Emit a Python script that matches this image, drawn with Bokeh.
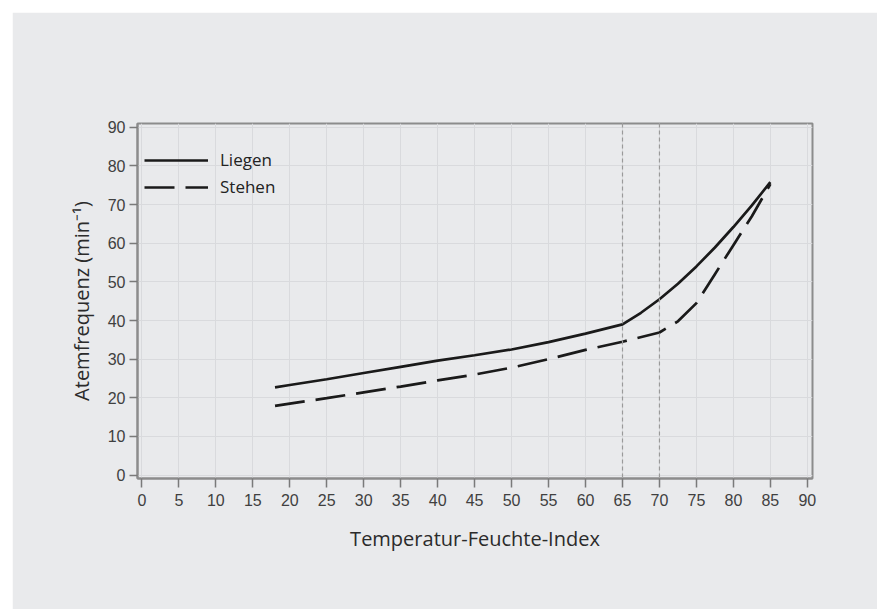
from bokeh.plotting import figure
from bokeh.models import Range1d, FixedTicker, Span, Legend, LegendItem
from bokeh.embed import file_html
from bokeh.resources import INLINE

# --- data ---
tfi_liegen = [18, 20, 25, 30, 35, 40, 45, 50, 55, 60, 65, 67.5, 70, 72.5, 75, 77.5, 80, 82.5, 85]
af_liegen = [22.7, 23.3, 24.8, 26.4, 28.0, 29.6, 31.0, 32.5, 34.4, 36.6, 39.0, 42.0, 45.5, 49.5, 54.0, 58.9, 64.2, 69.8, 75.8]

tfi_stehen = [18, 20, 25, 30, 35, 40, 45, 50, 55, 60, 65, 70, 72.5, 75, 77.5, 80, 82.5, 85]
af_stehen = [17.9, 18.5, 19.9, 21.4, 22.9, 24.5, 26.0, 27.8, 30.0, 32.4, 34.5, 36.9, 39.8, 44.5, 52.0, 59.5, 67.0, 75.3]

thresholds = [65, 70]
x_ticks = list(range(0, 95, 5))
y_ticks = list(range(0, 100, 10))
series_names = ["Liegen", "Stehen"]

BG = "#e9eaec"

p = figure(width=865, height=597, output_backend="svg", toolbar_location=None,
           x_range=Range1d(-0.6, 90.7), y_range=Range1d(-0.9, 91.0),
           min_border_left=125, min_border_right=65, min_border_top=111, min_border_bottom=131)
p.margin = (12, 0, 0, 12)
p.background_fill_color = BG
p.border_fill_color = BG
p.outline_line_color = "#8c8c8c"
p.outline_line_width = 2

p.xaxis.ticker = FixedTicker(ticks=x_ticks)
p.yaxis.ticker = FixedTicker(ticks=y_ticks)
p.xgrid.ticker = FixedTicker(ticks=x_ticks)
p.ygrid.ticker = FixedTicker(ticks=y_ticks)
p.grid.grid_line_color = "#d9dadd"
p.grid.grid_line_width = 1

for ax in (p.xaxis, p.yaxis):
    ax.axis_line_color = "#8c8c8c"
    ax.axis_line_width = 2
    ax.major_tick_line_color = "#7a7a7a"
    ax.major_tick_line_width = 1.5
    ax.major_tick_in = 0
    ax.minor_tick_line_color = None
    ax.major_label_text_font = "Liberation Sans"
    ax.major_label_text_font_size = "16px"
    ax.major_label_text_color = "#404040"
    ax.axis_label_text_font = "Open Sans"
    ax.axis_label_text_font_style = "normal"
    ax.axis_label_text_color = "#2b2b2b"
    ax.axis_label_text_font_size = "20px"

p.xaxis.major_tick_out = 9
p.xaxis.major_label_standoff = 6
p.yaxis.major_tick_out = 8
p.yaxis.major_label_standoff = 4
p.xaxis.axis_label = "Temperatur-Feuchte-Index"
p.yaxis.axis_label = "Atemfrequenz (min\u207b\u00b9)"
p.xaxis.axis_label_standoff = 16
p.yaxis.axis_label_standoff = 10

for t in thresholds:
    p.add_layout(Span(location=t, dimension="height", line_color="#9a9a9a",
                      line_dash="4 3", line_width=1.2))

r1 = p.line(tfi_liegen, af_liegen, line_color="#1a1a1a", line_width=2.7)
r2 = p.line(tfi_stehen, af_stehen, line_color="#1a1a1a", line_width=2.7, line_dash="30 11")

legend = Legend(items=[LegendItem(label=series_names[0], renderers=[r1]),
                       LegendItem(label=series_names[1], renderers=[r2])],
                location=(7, 280))
legend.border_line_color = None
legend.background_fill_alpha = 0
legend.padding = 2
legend.margin = 0
legend.spacing = 4
legend.glyph_width = 64
legend.glyph_height = 20
legend.label_height = 20
legend.label_standoff = 12
legend.label_text_font = "Open Sans"
legend.label_text_font_size = "17px"
legend.label_text_color = "#222222"
p.add_layout(legend)

open("out.html", "w").write(file_html(p, INLINE))
